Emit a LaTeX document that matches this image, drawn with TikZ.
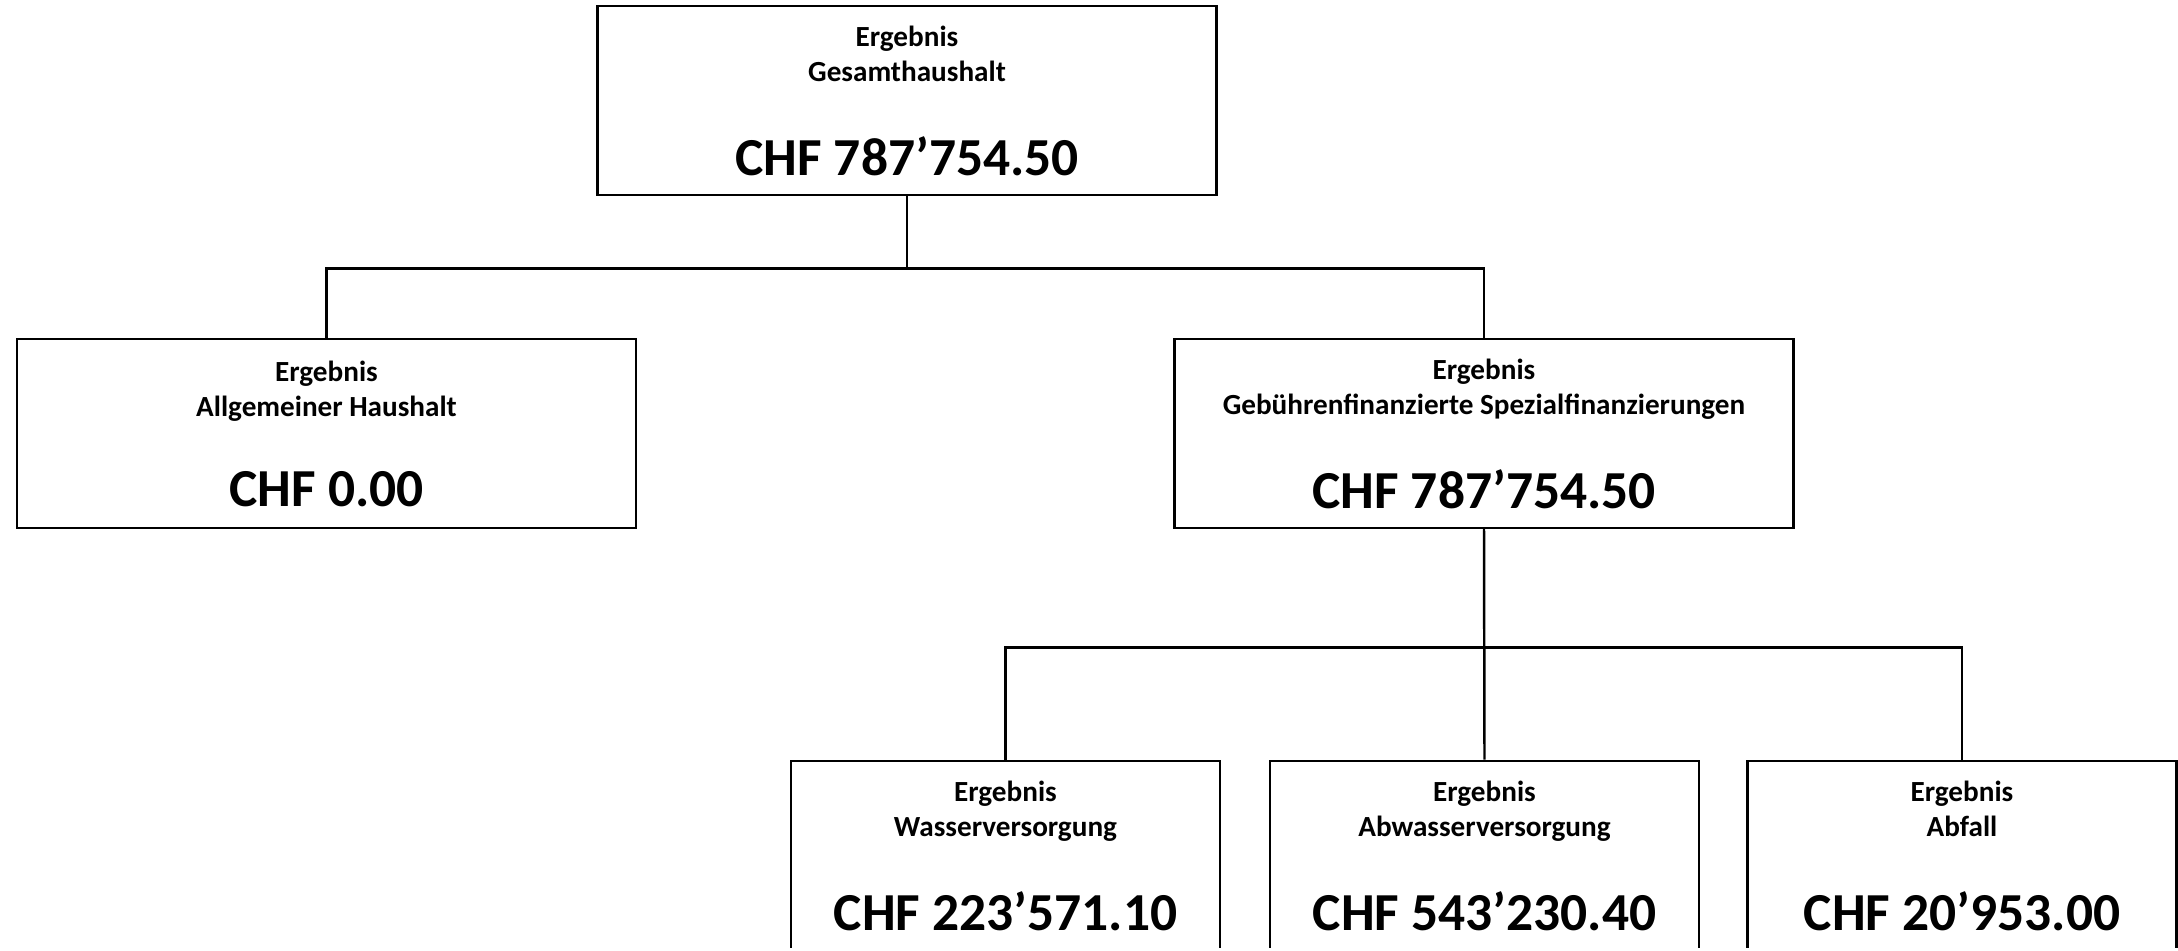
\documentclass[tikz,border=0pt]{standalone}
\usepackage{fontspec}
\setmainfont{Carlito}

\newcommand{\smallfont}{\fontsize{8.3}{10}\selectfont\bfseries}
\newcommand{\bigfont}{\fontsize{15.2}{18}\selectfont\bfseries}
\newcommand{\ergebnis}[2]{Ergebnis\\#1\strut\\[11.6pt]\bigfont CHF #2}

\begin{document}
\begin{tikzpicture}[x=0.01cm, y=-0.01cm,
  box/.style={draw, line width=0.7pt, rectangle, align=center, inner sep=0pt,
    minimum height=1.89cm, font=\smallfont},
  wide/.style={box, minimum width=6.19cm},
  narrow/.style={box, minimum width=4.29cm},
  link/.style={line width=0.7pt}]

\useasboundingbox (0,0) rectangle (2178,950);
\clip (0,0) rectangle (2178,947);

\node (gesamt) at (907,100.5) [wide] {\ergebnis{Gesamthaushalt}{787’754.50}};

\node (allgemein) at (326.5,433.5) [wide] {\ergebnis{Allgemeiner Haushalt}{0.00}};
\node (spezial) at (1484,433.5) [wide] {\ergebnis{Gebührenfinanzierte Spezialfinanzierungen}{787’754.50}};

\node (wasser) at (1005.5,855.5) [narrow] {\ergebnis{Wasserversorgung}{223’571.10}};
\node (abwasser) at (1484.5,855.5) [narrow] {\ergebnis{Abwasserversorgung}{543’230.40}};
\node (abfall) at (1962,855.5) [narrow] {\ergebnis{Abfall}{20’953.00}};

\draw [link] (gesamt.south) -- ++(0,72) -| (allgemein.north);
\draw [link] (gesamt.south) -- ++(0,72) -| (spezial.north);

\draw [link] (spezial.south) -- ++(0,118) -| (wasser.north);
\draw [link] (spezial.south) -- (abwasser.north);
\draw [link] (spezial.south) -- ++(0,118) -| (abfall.north);

\end{tikzpicture}
\end{document}
